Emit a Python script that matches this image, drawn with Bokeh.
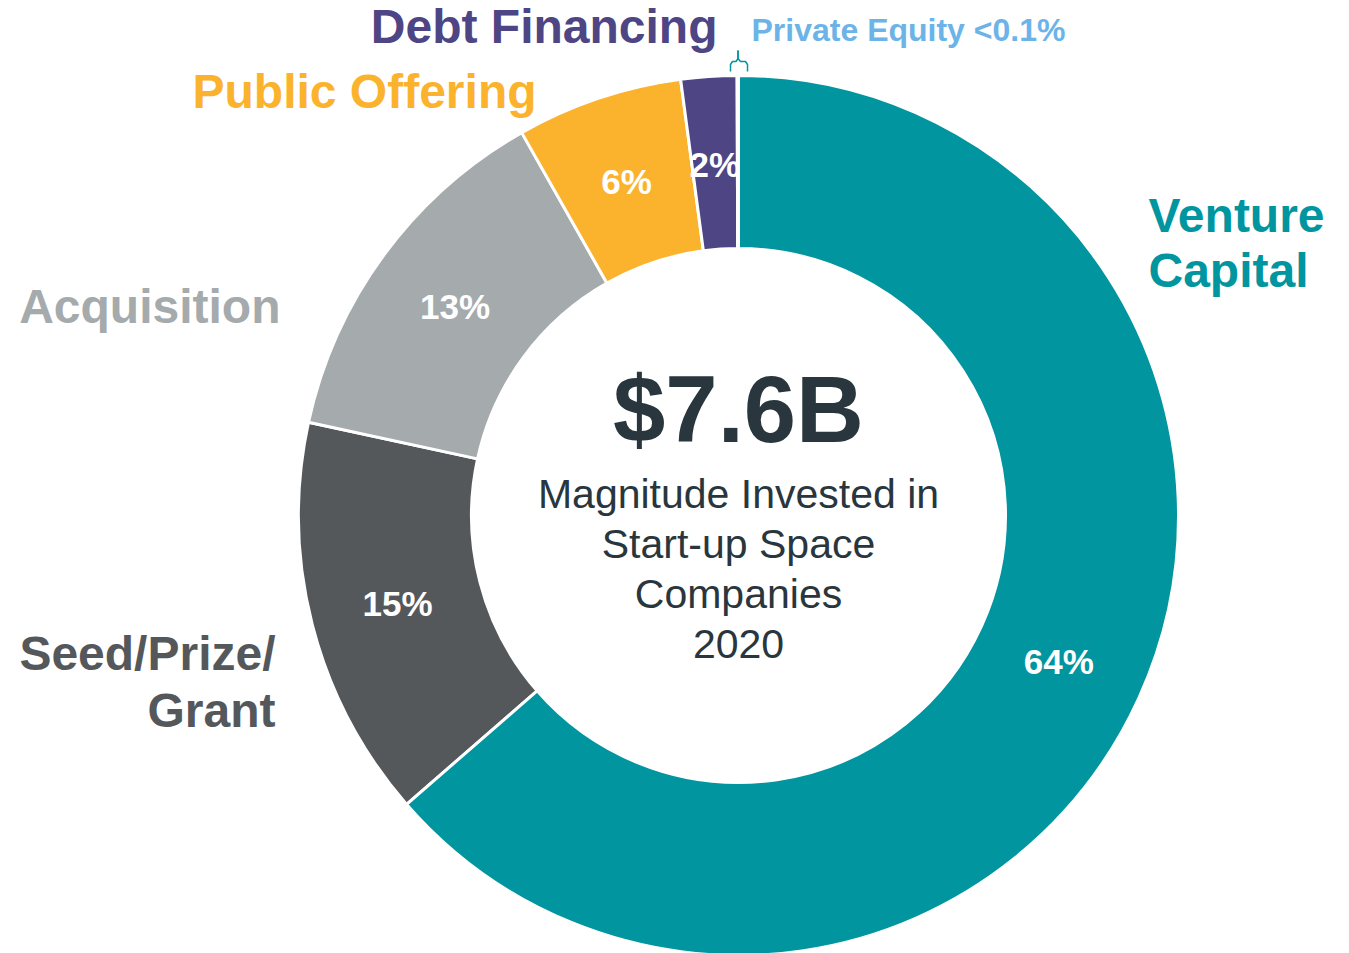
import numpy as np
from bokeh.plotting import figure
from bokeh.models import ColumnDataSource, Range1d, CDSView, IndexFilter
from bokeh.core.properties import value
from bokeh.embed import file_html
from bokeh.resources import INLINE

# ---- data ----
categories = ["Venture Capital", "Seed/Prize/Grant", "Acquisition",
              "Public Offering", "Debt Financing", "Private Equity"]
shares = [63.6, 14.8, 13.4, 6.1, 2.05, 0.05]
pct_labels = ["64%", "15%", "13%", "6%", "2%", ""]
colors = ["#00959F", "#55585B", "#A5AAAD", "#FBB32D", "#4E4585", "#6CB4E8"]

total_value = "$7.6B"
center_lines = ["Magnitude Invested in", "Start-up Space", "Companies", "2020"]

# ---- geometry (page pixels, y measured upward from window bottom) ----
W, H = 1349, 953
cx, cy = 738, H - 515
R_OUT, R_IN, R_LAB = 440, 267, 352
FONT = value("Liberation Sans")

vals = np.array(shares, dtype=float)
frac = vals / vals.sum()
cum = np.cumsum(frac)
start = np.pi / 2 - 2 * np.pi * (cum - frac)
end = np.pi / 2 - 2 * np.pi * cum
mid = (start + end) / 2

src = ColumnDataSource(dict(
    cat=categories, start=start, end=end, color=colors, label=pct_labels,
    lx=cx + R_LAB * np.cos(mid), ly=cy + R_LAB * np.sin(mid),
))

p = figure(width=W, height=H, x_range=Range1d(0, W), y_range=Range1d(0, H),
           output_backend="svg", toolbar_location=None, min_border=0,
           x_axis_location=None, y_axis_location=None)
p.grid.visible = False
p.outline_line_color = None
p.background_fill_color = "white"

# all wedges
p.annular_wedge(x=cx, y=cy, inner_radius=R_IN, outer_radius=R_OUT,
                start_angle="start", end_angle="end", direction="clock",
                fill_color="color", line_color="white", line_width=3, source=src)

# labels of the smaller slices
small_view = CDSView(filter=IndexFilter([1, 2, 3, 4]))
p.text(x="lx", y="ly", text="label", source=src, view=small_view,
       text_font=FONT, text_font_style="bold", text_font_size="35px",
       text_color="white", text_align="center", text_baseline="middle")

# venture capital slice drawn again on top (clips the "2%" label like the original)
vc_view = CDSView(filter=IndexFilter([0]))
p.annular_wedge(x=cx, y=cy, inner_radius=R_IN, outer_radius=R_OUT,
                start_angle="start", end_angle="end", direction="clock",
                fill_color="color", line_color="white", line_width=3,
                source=src, view=vc_view)
p.text(x="lx", y="ly", text="label", source=src, view=vc_view,
       text_font=FONT, text_font_style="bold", text_font_size="35px",
       text_color="white", text_align="center", text_baseline="middle")

# bracket marking the tiny Private Equity slice
bx = [[730, 730, 732, 735.5, 737.5, 737.5], [737.5, 737.5, 740, 745, 747, 747]]
by = [[H - 71, H - 64, H - 61, H - 61, H - 58, H - 50],
      [H - 50, H - 58, H - 61, H - 61, H - 64, H - 71]]
p.multi_line(xs=bx, ys=by, line_color="#00959F", line_width=1.5)

# category labels (y = visual middle of capitals, in page pixels from top)
def lab(x, y, txt, color, size="48px", align="left"):
    p.text(x=[x], y=[H - y], text=[txt], text_font=FONT, text_font_style="bold",
           text_font_size=size, text_color=color, text_align=align,
           text_baseline="middle")

lab(1148, 215, "Venture", colors[0])
lab(1148, 270, "Capital", colors[0])
lab(275, 653, "Seed/Prize/", colors[1], align="right")
lab(275, 710, "Grant", colors[1], align="right")
lab(280, 306, "Acquisition", colors[2], align="right")
lab(192, 91, "Public Offering", colors[3])
lab(717, 26, "Debt Financing", colors[4], align="right")
lab(751, 29, "Private Equity <0.1%", colors[5], size="32px")

# centre text
p.text(x=[cx], y=[H - 409], text=[total_value], text_font=FONT, text_font_style="bold",
       text_font_size="94px", text_color="#29363D", text_align="center",
       text_baseline="middle")
mids = [493, 543, 593, 643]
p.text(x=[cx] * 4, y=[H - m for m in mids], text=center_lines, text_font=FONT,
       text_font_size="41px", text_color="#29363D", text_align="center",
       text_baseline="middle")

open("out.html", "w").write(file_html(p, INLINE))
